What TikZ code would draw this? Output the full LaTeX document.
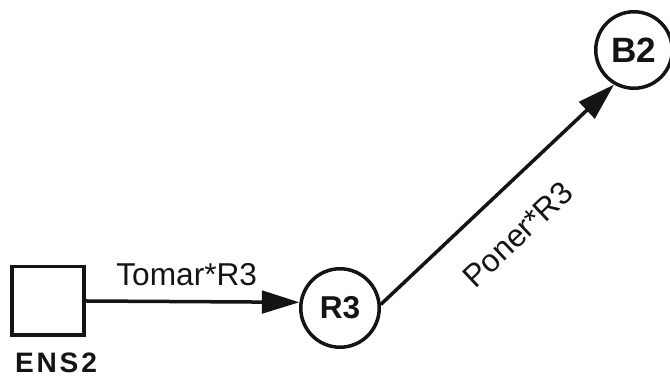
\documentclass[tikz,border=0pt]{standalone}
\usepackage{fontspec}
\setmainfont{Liberation Sans}
\usetikzlibrary{arrows.meta}
\definecolor{inkblack}{RGB}{20,20,20}

\begin{document}
\begin{tikzpicture}[x=0.02cm,y=-0.02cm,
    place/.style={circle,draw=inkblack,line width=0.07cm,text=inkblack,font=\fontsize{18}{21}\selectfont\bfseries},
    flow/.style={-{Triangle[length=0.75cm,width=0.45cm]},draw=inkblack,line width=0.07cm},
    flowlabel/.style={font=\fontsize{18}{21}\selectfont,text=inkblack}]
    \useasboundingbox (0,0) rectangle (670,377);
    % store and its name
    \node[draw=inkblack,line width=0.07cm,minimum width=1.45cm,minimum height=1.37cm] (ens2) at (48,301) {};
    \node[font=\fontsize{16}{19}\selectfont\bfseries\addfontfeature{LetterSpace=10},text=inkblack] (ens2name) at (56,363) {ENS2};
    % places
    \node[place,minimum size=1.57cm] (r3) at (340,308) {R3};
    \node[place,minimum size=1.53cm,font=\fontsize{20}{24}\selectfont\bfseries] (b2) at (634,50) {B2};
    % arcs
    \draw[flow] (ens2.east) -- node[flowlabel,above,inner sep=0.28cm,xshift=-0.12cm] {Tomar*R3} (r3.172);
    \draw[flow] (r3.5) -- node[flowlabel,sloped,below,pos=0.46,inner sep=0.6cm] {Poner*R3} (b2.240);
\end{tikzpicture}
\end{document}
